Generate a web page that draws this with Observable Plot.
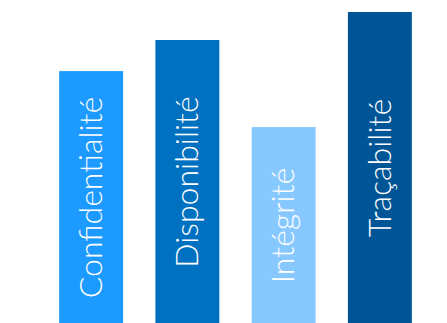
<!DOCTYPE html>
<html>
<head>
<meta charset="utf-8">
<script src="https://cdn.jsdelivr.net/npm/d3@7"></script>
<script src="https://cdn.jsdelivr.net/npm/@observablehq/plot@0.6"></script>
<style>
  html, body { margin: 0; padding: 0; background: #fff; }
</style>
</head>
<body>
<div id="chart"></div>
<script>
const categories = ["Confidentialité", "Disponibilité", "Intégrité", "Traçabilité"];
const values = [81, 91, 63, 100];
const colors = ["#1C9AFF", "#0070C0", "#87C8FF", "#005597"];

const data = categories.map((c, i) => ({category: c, value: values[i]}));

const chart = Plot.plot({
  width: 447,
  height: 323,
  marginTop: 0,
  marginBottom: 0,
  marginLeft: 43,
  marginRight: 19,
  x: {domain: categories, paddingInner: 0.3356, paddingOuter: 0.1678, round: false, axis: null},
  y: {domain: [0, 103.86], axis: null},
  color: {domain: categories, range: colors},
  style: {fontFamily: "Lato, sans-serif", background: "#fff"},
  marks: [
    Plot.barY(data, {x: "category", y: "value", fill: "category"}),
    Plot.text(data, {
      x: "category",
      y: d => d.value / 2,
      text: "category",
      rotate: -90,
      fill: "white",
      fontSize: 32,
      fontWeight: 300,
      textAnchor: "middle",
      lineAnchor: "middle"
    })
  ]
});
document.getElementById("chart").appendChild(chart);
</script>
</body>
</html>
